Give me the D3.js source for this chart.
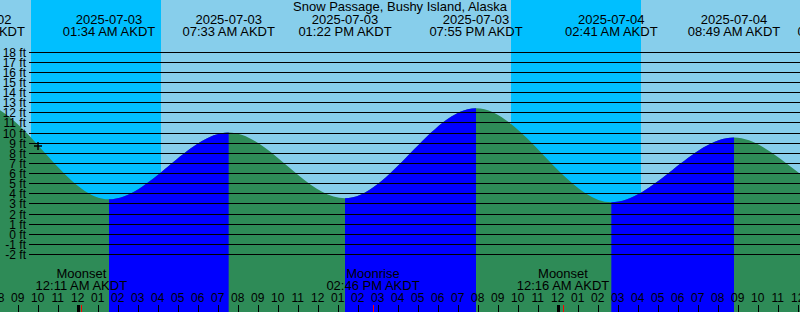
<!DOCTYPE html>
<html>
<head>
<meta charset="utf-8">
<script src="https://cdn.jsdelivr.net/npm/d3@7"></script>
<style>
body { margin: 0; background: #fff; }
svg { display: block; }
text { font-family: "Liberation Sans", Arial, sans-serif; fill: #000; }
</style>
</head>
<body>
<div class="chart"></div>
<script>
//tide events (AKDT clock time) and heights in feet
//first and last ones are off screen, they only keep the curve flat at the edge extremes
var tideTimes = ["2025-07-02 12:49", "2025-07-02 19:02", "2025-07-03 01:34", "2025-07-03 07:33", "2025-07-03 13:22",
	"2025-07-03 19:55", "2025-07-04 02:41", "2025-07-04 08:49", "2025-07-04 14:19", "2025-07-04 20:40"];
var tideHeights = [3.2, 12.9, 3.4, 10.0, 3.5, 12.4, 3.1, 9.5, 4.0, 12.0];

//moon events
var moonTimes = ["2025-07-03 00:11", "2025-07-03 14:46", "2025-07-04 00:16"];
var moonNames = ["Moonset", "Moonrise", "Moonset"];

//night (sunset -> sunrise)
var nightStarts = ["2025-07-02 21:40", "2025-07-03 21:40"];
var nightEnds = ["2025-07-03 04:10", "2025-07-04 04:10"];

//height labels on the left
var feetTicks = [18, 17, 16, 15, 14, 13, 12, 11, 10, 9, 8, 7, 6, 5, 4, 3, 2, 1, 0, -1, -2];

//current level marker
var nowTime = "2025-07-02 22:01";
var nowHeight = 8.7;

var chartTitle = "Snow Passage, Bushy Island, Alaska";
var viewStart = "2025-07-02 20:07";
var viewEnd = "2025-07-04 12:07";

var w = 800;
var h = 312;

var parse = d3.utcParse("%Y-%m-%d %H:%M");
var fmtDate = d3.utcFormat("%Y-%m-%d");
var fmtTime = d3.utcFormat("%I:%M %p");

function drawChart(){
	var svg = d3.select(".chart").append("svg")
		.attr("width", w)
		.attr("height", h);

	var x = d3.scaleUtc()
		.domain([parse(viewStart), parse(viewEnd)])
		.range([0, w]);

	var y = d3.scaleLinear()
		.domain([-2, 18])
		.range([254, 51.5]);

	var tides = tideTimes.map(function(t, i){
		return {time: parse(t), height: tideHeights[i]};
	});

	//day sky
	svg.append("rect")
		.attr("width", w).attr("height", h)
		.attr("fill", "#87ceeb");

	//night sky
	svg.selectAll("rect.night")
		.data(nightStarts)
		.enter()
		.append("rect")
		.attr("class", "night")
		.attr("x", function(d){ return x(parse(d)); })
		.attr("y", 0)
		.attr("width", function(d, i){ return x(parse(nightEnds[i])) - x(parse(d)); })
		.attr("height", h)
		.attr("fill", "#00bfff");

	var area = d3.area()
		.x(function(d){ return x(d.time); })
		.y0(h)
		.y1(function(d){ return y(d.height); })
		.curve(d3.curveMonotoneX);

	//falling tide is green
	svg.append("path")
		.datum(tides)
		.attr("d", area)
		.attr("fill", "#2e8b57");

	//rising tide is blue, clipped to each low -> high stretch
	var defs = svg.append("defs");
	tides.forEach(function(d, i){
		if(i == tides.length - 1) return;
		var next = tides[i + 1];
		if(next.height <= d.height) return;
		defs.append("clipPath")
			.attr("id", "rise" + i)
			.append("rect")
			.attr("x", x(d.time))
			.attr("y", 0)
			.attr("width", x(next.time) - x(d.time))
			.attr("height", h);
		svg.append("path")
			.datum(tides)
			.attr("d", area)
			.attr("fill", "#0000ff")
			.attr("clip-path", "url(#rise" + i + ")");
	});

	//height lines
	svg.selectAll("line.grid")
		.data(feetTicks)
		.enter()
		.append("line")
		.attr("class", "grid")
		.attr("x1", 29)
		.attr("x2", w)
		.attr("y1", function(d){ return Math.round(y(d)) + 0.5; })
		.attr("y2", function(d){ return Math.round(y(d)) + 0.5; })
		.attr("stroke", "#000")
		.attr("stroke-width", 1);

	svg.selectAll("text.feet")
		.data(feetTicks)
		.enter()
		.append("text")
		.attr("class", "feet")
		.attr("x", 26)
		.attr("y", function(d){ return Math.round(y(d)) + 4.5; })
		.attr("text-anchor", "end")
		.style("font-size", "12px")
		.text(function(d){ return d + " ft"; });

	//title
	svg.append("text")
		.attr("x", w / 2)
		.attr("y", 11)
		.attr("text-anchor", "middle")
		.style("font-size", "13px")
		.text(chartTitle);

	//high / low labels (only the ones near the view)
	var shown = tides.filter(function(d){
		return x(d.time) > -100 && x(d.time) < w + 100;
	});
	var ev = svg.selectAll("g.event")
		.data(shown)
		.enter()
		.append("g")
		.attr("class", "event")
		.attr("transform", function(d){ return "translate(" + x(d.time) + ",0)"; });
	ev.append("text")
		.attr("y", 23.5)
		.attr("text-anchor", "middle")
		.style("font-size", "13px")
		.text(function(d){ return fmtDate(d.time); });
	ev.append("text")
		.attr("y", 35.5)
		.attr("text-anchor", "middle")
		.style("font-size", "13px")
		.text(function(d){ return fmtTime(d.time) + " AKDT"; });

	//moon labels
	var moon = svg.selectAll("g.moon")
		.data(moonTimes)
		.enter()
		.append("g")
		.attr("class", "moon")
		.attr("transform", function(d){ return "translate(" + x(parse(d)) + ",0)"; });
	moon.append("text")
		.attr("y", 278)
		.attr("text-anchor", "middle")
		.style("font-size", "13px")
		.text(function(d, i){ return moonNames[i]; });
	moon.append("text")
		.attr("y", 290)
		.attr("text-anchor", "middle")
		.style("font-size", "13px")
		.text(function(d){ return fmtTime(parse(d)) + " AKDT"; });

	//hour ticks along the bottom, starting one hour before the view so the cut label shows
	var hours = d3.utcHour.range(d3.utcHour.floor(parse(viewStart)), parse(viewEnd));
	svg.selectAll("text.hour")
		.data(hours)
		.enter()
		.append("text")
		.attr("class", "hour")
		.attr("x", function(d){ return x(d); })
		.attr("y", 301.5)
		.attr("text-anchor", "middle")
		.style("font-size", "12px")
		.text(function(d){ return d3.utcFormat("%I")(d); });

	svg.selectAll("line.hour")
		.data(hours)
		.enter()
		.append("line")
		.attr("class", "hour")
		.attr("x1", function(d){ return Math.round(x(d)) + 0.5; })
		.attr("x2", function(d){ return Math.round(x(d)) + 0.5; })
		.attr("y1", 305)
		.attr("y2", h)
		.attr("stroke", "#000")
		.attr("stroke-width", function(d){ return d.getUTCHours() == 0 ? 3 : 1; });

	svg.selectAll("line.moonTick")
		.data(moonTimes)
		.enter()
		.append("line")
		.attr("class", "moonTick")
		.attr("x1", function(d){ return Math.round(x(parse(d))) + 0.5; })
		.attr("x2", function(d){ return Math.round(x(parse(d))) + 0.5; })
		.attr("y1", 305)
		.attr("y2", h)
		.attr("stroke", "#ff0000")
		.attr("stroke-width", 1);

	//current level cross
	var cx = Math.round(x(parse(nowTime)));
	var cy = Math.round(y(nowHeight));
	svg.append("path")
		.attr("d", "M" + (cx - 4) + "," + cy + "H" + (cx + 4) + "M" + cx + "," + (cy - 4) + "V" + (cy + 4))
		.attr("stroke", "#000")
		.attr("stroke-width", 1.5)
		.attr("fill", "none");
}

drawChart();
</script>
</body>
</html>
